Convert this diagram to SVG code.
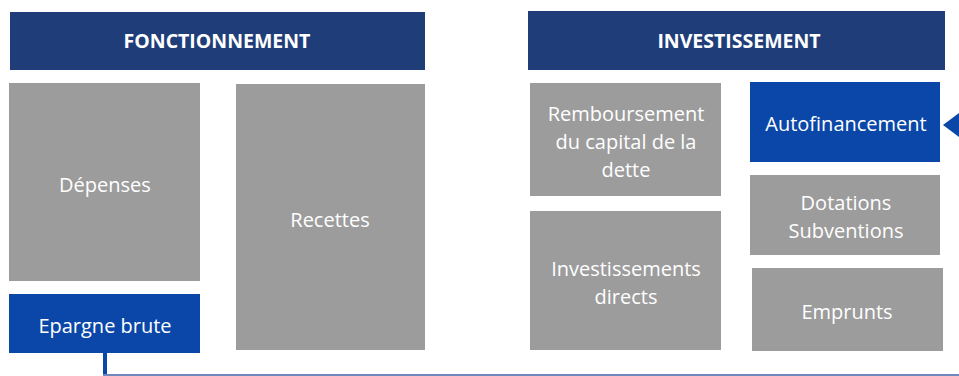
<svg xmlns="http://www.w3.org/2000/svg" width="959" height="376" viewBox="0 0 959 376">
<defs>
<style>
.hdr{fill:#1f3e79}
.gray{fill:#9c9c9c}
.blue{fill:#0a47a8}
text{font-family:"Open Sans","Noto Sans",sans-serif;fill:#ffffff;text-anchor:middle}
.ht{font-weight:bold;font-size:19.5px}
.bt{font-size:20px}
</style>
</defs>
<rect width="959" height="376" fill="#ffffff"/>
<g id="connectors">
<line x1="105" y1="353" x2="105" y2="376" stroke="#0a47a8" stroke-width="4"/>
<line x1="103" y1="375" x2="959" y2="375" stroke="#7088bb" stroke-width="2"/>
<polygon points="943,125 959,113 959,137" fill="#0a47a8"/>
</g>
<g id="fonctionnement">
<rect class="hdr" x="10" y="12" width="415" height="58"/>
<text class="ht" x="217" y="48">FONCTIONNEMENT</text>
</g>
<g id="depenses">
<rect class="gray" x="9" y="83" width="191" height="198"/>
<text class="bt" x="105" y="192">Dépenses</text>
</g>
<g id="recettes">
<rect class="gray" x="236" y="84" width="189" height="266"/>
<text class="bt" x="330" y="227">Recettes</text>
</g>
<g id="epargne">
<rect class="blue" x="9" y="294" width="191" height="59"/>
<text class="bt" x="105" y="333">Epargne brute</text>
</g>
<g id="investissement">
<rect class="hdr" x="528" y="11" width="417" height="59"/>
<text class="ht" x="739" y="48">INVESTISSEMENT</text>
</g>
<g id="remboursement">
<rect class="gray" x="530" y="83" width="191" height="113"/>
<text class="bt" x="626" y="121">Remboursement</text>
<text class="bt" x="626" y="149">du capital de la</text>
<text class="bt" x="626" y="177">dette</text>
</g>
<g id="investissements-directs">
<rect class="gray" x="530" y="211" width="191" height="139"/>
<text class="bt" x="626" y="276">Investissements</text>
<text class="bt" x="626" y="304">directs</text>
</g>
<g id="autofinancement">
<rect class="blue" x="750" y="82" width="190" height="80"/>
<text class="bt" x="846" y="131">Autofinancement</text>
</g>
<g id="dotations">
<rect class="gray" x="750" y="175" width="190" height="80"/>
<text class="bt" x="846" y="210">Dotations</text>
<text class="bt" x="846" y="238">Subventions</text>
</g>
<g id="emprunts">
<rect class="gray" x="752" y="268" width="191" height="83"/>
<text class="bt" x="847" y="319">Emprunts</text>
</g>
</svg>
